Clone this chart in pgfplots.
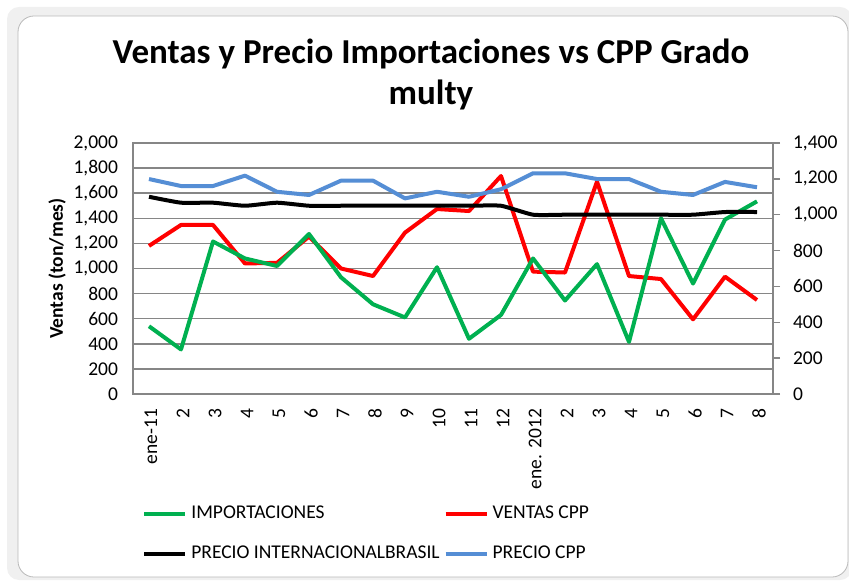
\documentclass[border=0pt]{standalone}
\usepackage{fontspec}
\setmainfont{Carlito}
\usepackage{pgfplots}
\pgfplotsset{compat=1.18}

\definecolor{verde}{RGB}{0,176,80}
\definecolor{rojo}{RGB}{255,0,0}
\definecolor{azul}{RGB}{85,142,213}
\definecolor{rejilla}{RGB}{134,134,134}

\newcommand{\tickfont}{\fontsize{9.75}{11}\selectfont}

\begin{document}
\begin{tikzpicture}
\path[use as bounding box] (0,0) rectangle (424.5pt,291.5pt);
% marco del grafico
\fill[gray!12, rounded corners=6pt] (3.5pt,1.5pt) rectangle (426pt,288pt);
\draw[gray!55, fill=white, rounded corners=8pt] (9pt,3pt) rectangle (424pt,283.5pt);

\node[anchor=base, font=\bfseries\fontsize{17.5}{21}\selectfont] at (215.5pt,259.5pt) {Ventas y Precio Importaciones vs CPP Grado};
\node[anchor=base, font=\bfseries\fontsize{17.5}{21}\selectfont] at (215.5pt,239pt) {multy};

% eje izquierdo: toneladas
\begin{axis}[
    scale only axis,
    width=320pt, height=125.5pt,
    at={(66.5pt,94.5pt)}, anchor=south west,
    xmin=-0.5, xmax=19.5,
    ymin=0, ymax=2000,
    ytick={0,200,...,2000},
    xtick={0,...,19},
    xticklabels={ene-11,2,3,4,5,6,7,8,9,10,11,12,ene. 2012,2,3,4,5,6,7,8},
    % desplazamientos en el marco girado: xshift baja, yshift mueve a la izquierda
    x tick label style={font=\tickfont, rotate=90, anchor=east, xshift=-4pt, yshift=-1pt},
    y tick label style={font=\tickfont, xshift=-4pt},
    /pgf/number format/assume math mode=true,
    /pgf/number format/1000 sep={,},
    ymajorgrids,
    grid style={rejilla, line width=0.75pt},
    axis line style={rejilla, line width=0.75pt},
    tick style={draw=none},
    ylabel={Ventas (ton/mes)},
    ylabel style={font=\bfseries\tickfont, at={([xshift=-38pt]rel axis cs:0,0.5)}, anchor=center},
]
\addplot[rojo, line width=2pt, line join=round] coordinates {
    (0,1180) (1,1347) (2,1347) (3,1040) (4,1045) (5,1254) (6,1000) (7,940) (8,1286) (9,1474)
    (10,1458) (11,1737) (12,975) (13,968) (14,1692) (15,940) (16,916) (17,595) (18,935) (19,749)
};
\addplot[verde, line width=2pt, line join=round] coordinates {
    (0,540) (1,355) (2,1215) (3,1080) (4,1020) (5,1275) (6,930) (7,715) (8,610) (9,1010)
    (10,440) (11,630) (12,1080) (13,745) (14,1035) (15,415) (16,1400) (17,880) (18,1390) (19,1535)
};
\end{axis}

% eje derecho: precios
\begin{axis}[
    scale only axis,
    width=320pt, height=125.5pt,
    at={(66.5pt,94.5pt)}, anchor=south west,
    xmin=-0.5, xmax=19.5,
    ymin=0, ymax=1400,
    ytick={0,200,...,1400},
    axis x line=none,
    axis y line*=right,
    axis line style={rejilla, line width=0.75pt},
    ytick style={rejilla, line width=0.75pt},
    tick align=outside,
    major tick length=3.5pt,
    y tick label style={font=\tickfont, xshift=3pt},
    /pgf/number format/assume math mode=true,
    /pgf/number format/1000 sep={,},
    legend columns=2,
    legend cell align=left,
    legend image code/.code={\draw[#1, line width=2pt] (0pt,0pt) -- (20.5pt,0pt);},
    legend style={at={(0.014,-0.43)}, anchor=north west, draw=none, fill=none,
        font=\tickfont, inner sep=0pt, row sep=8pt},
]
\addlegendimage{verde}
\addlegendentry{IMPORTACIONES}
\addlegendimage{rojo}
\addlegendentry{VENTAS CPP}
\addplot[black, line width=2pt, line join=round, smooth, tension=0.3] coordinates {
    (0,1100) (1,1067) (2,1067) (3,1050) (4,1067) (5,1050) (6,1050) (7,1050) (8,1050) (9,1050)
    (10,1050) (11,1050) (12,1000) (13,1000) (14,1000) (15,1000) (16,1000) (17,1000) (18,1015) (19,1015)
};
\addlegendentry{PRECIO INTERNACIONALBRASIL}
\addplot[azul, line width=2pt, line join=round] coordinates {
    (0,1199) (1,1160) (2,1160) (3,1218) (4,1128) (5,1110) (6,1190) (7,1190) (8,1091) (9,1128)
    (10,1100) (11,1142) (12,1231) (13,1231) (14,1199) (15,1199) (16,1128) (17,1110) (18,1183) (19,1153)
};
\addlegendentry{PRECIO CPP}
\end{axis}
\end{tikzpicture}
\end{document}
